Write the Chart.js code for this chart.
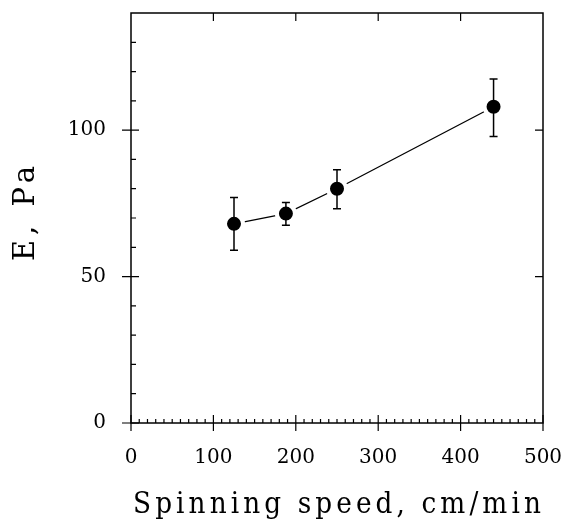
<!DOCTYPE html>
<html>
<head>
<meta charset="utf-8">
<script src="https://cdn.jsdelivr.net/npm/chart.js@4.4.1/dist/chart.umd.min.js"></script>
<style>
  body { margin: 0; background: #fff; }
  #wrap { width: 566px; height: 524px; }
</style>
</head>
<body>
<div id="wrap"><canvas id="myChart"></canvas></div>
<script>
// spinning speed (cm/min) and modulus E (Pa)
var speed = [125, 188, 250, 440];
var modulus = [68, 71.5, 80, 108];
var errLow = [59, 67.5, 73.2, 97.8];
var errHigh = [77, 75.3, 86.5, 117.5];

var xTicks = [0, 100, 200, 300, 400, 500];
var yTicks = [0, 50, 100];

const serif = "'DejaVu Serif', 'Liberation Serif', serif";

// no automatic padding around the axes
const noPad = (sc) => {
  sc.paddingLeft = 0;
  sc.paddingRight = 0;
  sc.paddingTop = 0;
  sc.paddingBottom = 0;
};

// letter spacing + small nudge for the axis titles
const titleStyle = {
  x: { spacing: "4.5px", dx: 2, dy: 3 },
  y: { spacing: "5px", dx: 1, dy: -7 },
};

// frame, inward ticks and error bars
const decor = {
  id: "decor",
  afterUpdate(chart) {
    ["x", "y"].forEach((id) => {
      const sc = chart.scales[id];
      if (sc && !sc._spaced) {
        const orig = sc.drawTitle;
        sc.drawTitle = function () {
          const c = this.ctx;
          const st = titleStyle[id];
          c.save();
          c.letterSpacing = st.spacing;
          c.translate(st.dx, st.dy);
          orig.apply(this, arguments);
          c.restore();
        };
        sc._spaced = true;
      }
    });
  },
  afterDatasetsDraw(chart) {
    const ctx = chart.ctx;
    const a = chart.chartArea;
    const xs = chart.scales.x, ys = chart.scales.y;
    ctx.save();
    ctx.strokeStyle = "#000";

    // error bars
    ctx.lineWidth = 1.5;
    for (let i = 0; i < speed.length; i++) {
      const px = xs.getPixelForValue(speed[i]);
      const lo = ys.getPixelForValue(errLow[i]);
      const hi = ys.getPixelForValue(errHigh[i]);
      ctx.beginPath();
      ctx.moveTo(px, lo); ctx.lineTo(px, hi);
      ctx.moveTo(px - 4, lo); ctx.lineTo(px + 4, lo);
      ctx.moveTo(px - 4, hi); ctx.lineTo(px + 4, hi);
      ctx.stroke();
    }

    // frame
    ctx.lineWidth = 1.5;
    ctx.strokeRect(a.left, a.top, a.right - a.left, a.bottom - a.top);

    ctx.lineWidth = 1.2;
    ctx.beginPath();
    // x major ticks
    xTicks.forEach((v) => {
      const px = xs.getPixelForValue(v);
      ctx.moveTo(px, a.bottom + 8); ctx.lineTo(px, a.bottom - 8);
      if (v > 0 && v < 500) { ctx.moveTo(px, a.top); ctx.lineTo(px, a.top + 8); }
    });
    // x minor ticks
    for (let v = 10; v < 500; v += 10) {
      if (v % 100 == 0) continue;
      const px = xs.getPixelForValue(v);
      ctx.moveTo(px, a.bottom); ctx.lineTo(px, a.bottom - 4);
    }
    // y major ticks
    yTicks.forEach((v) => {
      const py = ys.getPixelForValue(v);
      ctx.moveTo(a.left - 9, py); ctx.lineTo(a.left + 8, py);
      if (v > 0) { ctx.moveTo(a.right, py); ctx.lineTo(a.right - 8, py); }
    });
    // y minor ticks
    for (let v = 10; v < 140; v += 10) {
      if (v % 50 == 0) continue;
      const py = ys.getPixelForValue(v);
      ctx.moveTo(a.left, py); ctx.lineTo(a.left + 5, py);
    }
    ctx.stroke();
    ctx.restore();
  },
};

const data = {
  datasets: [
    {
      label: "E",
      data: speed.map((s, i) => ({ x: s, y: modulus[i] })),
      borderColor: "#000",
      borderWidth: 1.3,
      pointRadius: 9,
      pointBorderWidth: 4,
      pointBorderColor: "#fff",
      pointBackgroundColor: "#000",
      pointHoverRadius: 9,
      tension: 0,
    },
  ],
};

const config = {
  type: "line",
  data: data,
  plugins: [decor],
  options: {
    responsive: true,
    maintainAspectRatio: false,
    animation: false,
    layout: { padding: { top: 10, right: 23, left: 0, bottom: 0 } },
    plugins: {
      legend: { display: false },
      tooltip: { enabled: false },
    },
    scales: {
      x: {
        type: "linear",
        min: 0,
        max: 500,
        afterBuildTicks: (sc) => { sc.ticks = xTicks.map((v) => ({ value: v })); },
        afterFit: (sc) => { sc.height = 101; noPad(sc); },
        grid: { display: false, drawTicks: false },
        border: { display: false },
        ticks: {
          color: "#000",
          padding: 23,
          maxRotation: 0,
          font: { family: serif, size: 20 },
        },
        title: {
          display: true,
          text: "Spinning speed, cm/min",
          color: "#000",
          padding: { top: 0, bottom: 4 },
          font: { family: serif, size: 29 },
        },
      },
      y: {
        min: 0,
        max: 140,
        afterBuildTicks: (sc) => { sc.ticks = yTicks.map((v) => ({ value: v })); },
        afterFit: (sc) => { sc.width = 131; noPad(sc); },
        grid: { display: false, drawTicks: false },
        border: { display: false },
        ticks: {
          color: "#000",
          padding: 25,
          font: { family: serif, size: 20 },
        },
        title: {
          display: true,
          text: "E, Pa",
          color: "#000",
          padding: { top: 8, bottom: 0 },
          font: { family: serif, size: 29 },
        },
      },
    },
  },
};

myChart = new Chart("myChart", config);
</script>
</body>
</html>
